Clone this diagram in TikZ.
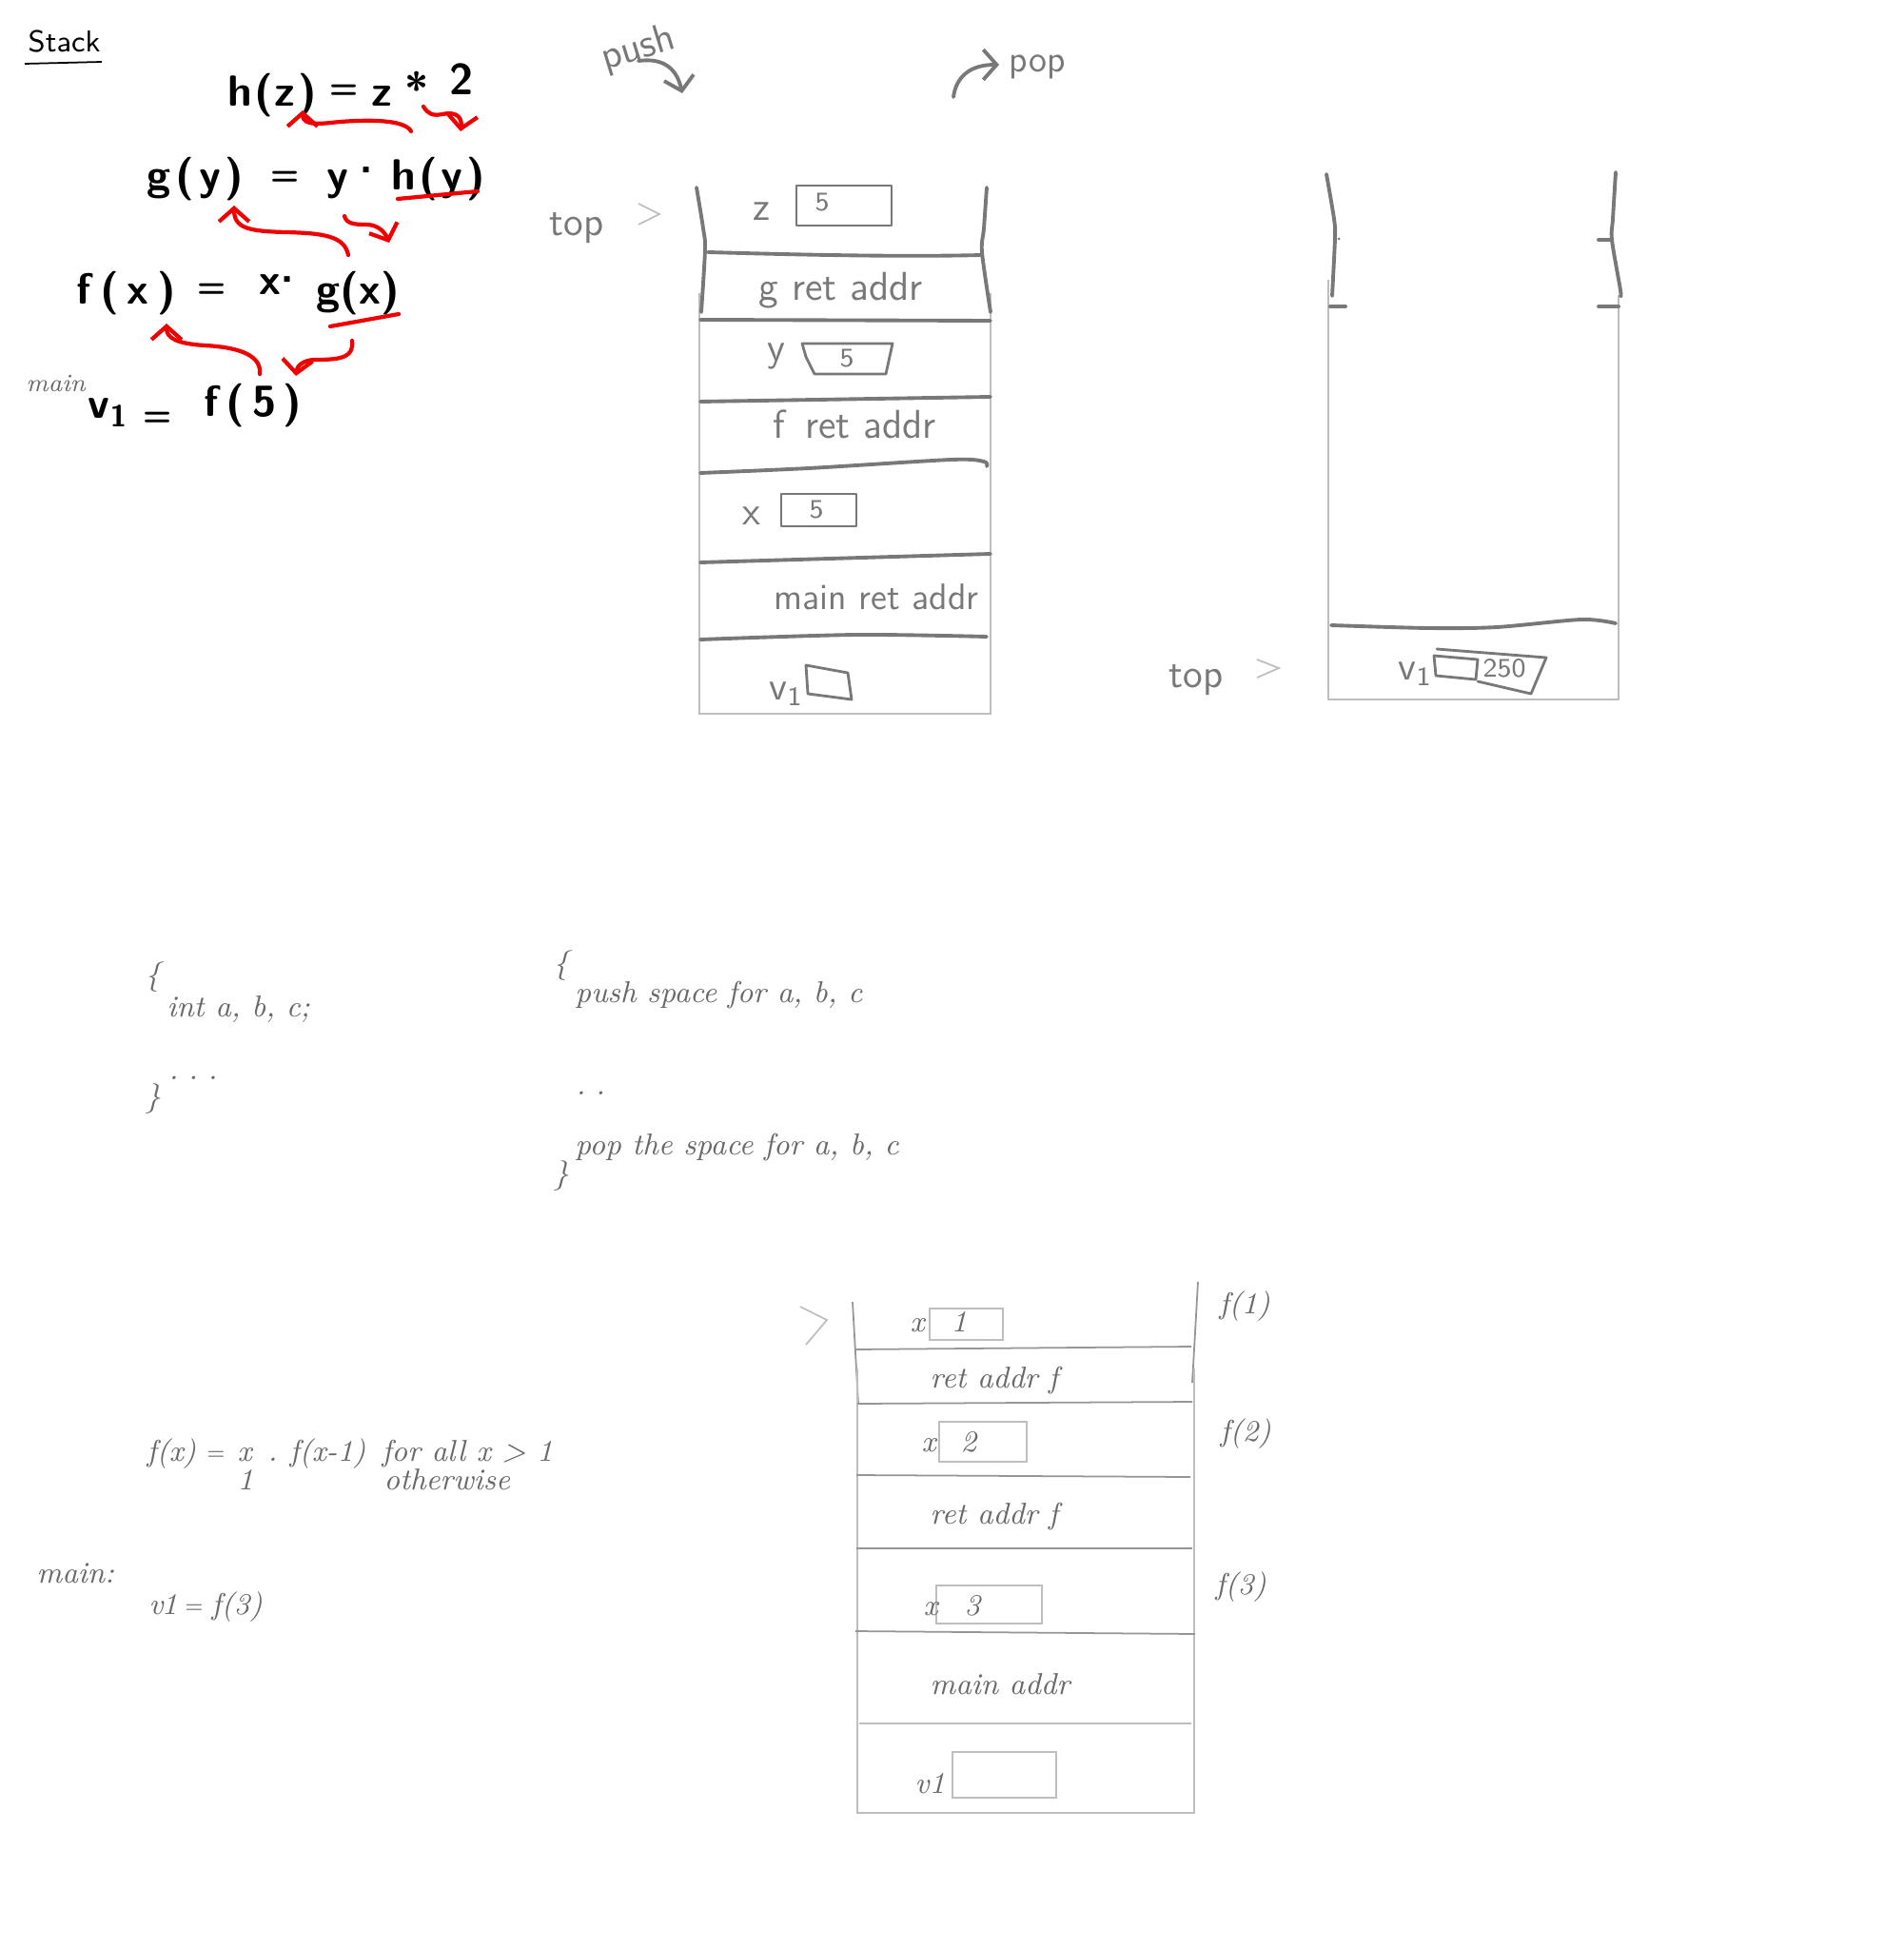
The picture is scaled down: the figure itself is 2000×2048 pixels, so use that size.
\documentclass[tikz,border=0pt]{standalone}
\usetikzlibrary{arrows.meta}
\definecolor{ink}{RGB}{120,120,120}
\definecolor{curink}{RGB}{105,105,105}
\definecolor{thingray}{RGB}{190,190,190}
\definecolor{midgray}{RGB}{150,150,150}
\definecolor{redink}{RGB}{240,0,0}
\begin{document}
\begin{tikzpicture}[x=0.1mm,y=-0.1mm,
  marker/.style={draw=ink, line width=1.1pt, line cap=round, line join=round},
  markerthin/.style={draw=ink, line width=0.8pt, line cap=round, line join=round},
  thinline/.style={draw=thingray, line width=0.5pt},
  midline/.style={draw=midgray, line width=0.5pt},
  redline/.style={draw=redink, line width=1.2pt, line cap=round, line join=round},
  redarrow/.style={redline, -{Straight Barb[length=4pt,width=9pt]}},
  markarrow/.style={marker, -{Straight Barb[length=4pt,width=9pt]}},
  cur/.style={text=curink, font=\fontsize{9}{11}\selectfont\itshape, inner sep=0pt, anchor=base west},
  cureq/.style={text=curink, font=\fontsize{6}{8}\selectfont, inner sep=0pt, anchor=base},
  mk/.style={text=ink, font=\fontsize{12}{14}\selectfont\sffamily, inner sep=0pt, anchor=base west},
  mksmall/.style={text=ink, font=\fontsize{8}{10}\selectfont\sffamily, inner sep=0pt, anchor=base west},
  eq/.style={text=black, font=\fontsize{13}{15}\selectfont\sffamily\bfseries, inner sep=0pt, anchor=base west},
  eqc/.style={eq, anchor=base}]
\useasboundingbox[fill=white] (0,0) rectangle (2000,2048);

% ---------- top-left equations ----------
\node[inner sep=0pt, anchor=base west, font=\fontsize{9}{11}\selectfont\sffamily] (stack) at (29,55) {Stack};
\draw[black, line width=0.5pt] (26,67) -- (107,65);

\node[eq] (hz1) at (239,112) {h\hspace{0.5pt}(\hspace{0.5pt}z\hspace{1pt})};
\node[eqc, font=\fontsize{10}{12}\selectfont\sffamily\bfseries] (hz2) at (362,104) {=};
\node[eq] (hz3) at (390,112) {z};
\node[eqc] (hz4) at (438,110) {*};
\node[eq] (hz5) at (472,100) {2};

\node[eq] (gy1) at (154,200) {g\hspace{1.4pt}(\hspace{1.4pt}y\hspace{1.4pt})};
\node[eqc, font=\fontsize{10}{12}\selectfont\sffamily\bfseries] (gy2) at (300,195) {=};
\node[eq] (gy3) at (343,200) {y};
\node[eqc] (gy4) at (385,195) {·};
\node[eq] (gy5) at (411,200) {h\hspace{1pt}(\hspace{1pt}y\hspace{1pt})};

\node[eq] (fx1) at (80,320) {f\hspace{2.6pt}(\hspace{2.6pt}x\hspace{2.6pt})};
\node[eqc, font=\fontsize{10}{12}\selectfont\sffamily\bfseries] (fx2) at (223,313) {=};
\node[eq] (fx3) at (272,310) {x};
\node[eqc] (fx4) at (302,310) {·};
\node[eq] (fx5) at (332,320) {g(x)};

\node[inner sep=0pt, anchor=base west, text=curink, font=\fontsize{7.5}{9}\selectfont\itshape] (mainA) at (27,412) {main};
\node[eq] (v1) at (92,440) {v\textsubscript{1}};
\node[eqc, font=\fontsize{10}{12}\selectfont\sffamily\bfseries] (v1eqs) at (166,447) {=};
\node[eq] (v1f) at (214,437) {f\hspace{2.2pt}(\hspace{2.2pt}5\hspace{2.2pt})};

\draw[redline] (418,209) -- (502,201);
\draw[redline] (347,343) -- (419,330);
\draw[redarrow] (432,138) .. controls (425,125) and (385,126) .. (357,128) .. controls (338,130) and (318,133) .. (318,116);
\draw[redarrow] (445,112) .. controls (450,120) and (455,122) .. (465,120) .. controls (478,117) and (486,122) .. (484,138);
\draw[redarrow] (366,268) .. controls (362,248) and (340,245) .. (300,244) .. controls (262,243) and (246,240) .. (246,216);
\draw[redarrow] (362,227) .. controls (364,235) and (372,236) .. (385,236) .. controls (398,236) and (405,245) .. (409,255);
\draw[redarrow] (273,393) .. controls (275,375) and (255,365) .. (215,363) .. controls (185,361) and (175,355) .. (175,340);
\draw[redarrow] (370,358) .. controls (372,375) and (360,378) .. (332,378) .. controls (318,378) and (312,385) .. (311,395);

% ---------- push / pop ----------
\node[mk, anchor=center, rotate=17] (push) at (671,52) {push};
\draw[markarrow] (671,64) .. controls (700,60) and (712,75) .. (717,98);
\node[mk, anchor=center, font=\fontsize{11}{13}\selectfont\sffamily] (pop) at (1090,70) {pop};
\draw[markarrow] (1002,102) .. controls (1005,80) and (1020,68) .. (1050,68);

% ---------- stack 1 ----------
\node[mk] (top1) at (577,248) {top};
\draw[thinline] (671,214) -- (693,225) -- (671,236);
\draw[thinline] (735,308) -- (735,750) -- (1041,750) -- (1041,308);
\draw[marker] plot[smooth] coordinates {(732,197) (739,240) (741,262) (737,328)};
\draw[marker] plot[smooth] coordinates {(1037,197) (1034,240) (1032,265) (1041,328)};
\draw[marker] (744,265) .. controls (850,268) and (950,270) .. (1032,268);
\draw[marker] (736,336) -- (1041,337);
\draw[marker] (736,422) -- (1041,417);
\draw[marker] plot[smooth] coordinates {(736,497) (850,492) (1000,483) (1034,485) (1037,490)};
\draw[marker] (736,591) -- (1041,582);
\draw[marker] plot[smooth] coordinates {(736,672) (900,667) (1037,669)};

\node[mk] (zlab) at (791,232) {z};
\draw[markerthin] (837,195) rectangle (937,237);
\node[mksmall] (z5) at (856,222) {5};
\node[mk] (gret) at (797,316) {g\hspace{4pt}ret addr};
\node[mk] (ylab) at (806,380) {y};
\draw[markerthin] (843,361) -- (938,361) -- (931,393) -- (856,393) -- (847,375) -- cycle;
\node[mksmall] (y5) at (882,386) {5};
\node[mk] (fret) at (812,461) {f\hspace{6pt}ret addr};
\node[mk] (xlab) at (780,551) {x};
\draw[markerthin] (821,519) rectangle (900,553);
\node[mksmall] (x5) at (850,544) {5};
\node[mk, font=\fontsize{11}{13}\selectfont\sffamily] (mainret) at (813,640) {main ret addr};
\node[mk] (v1a) at (808,735) {v\textsubscript{1}};
\draw[markerthin] (847,699) -- (891,707) -- (895,735) -- (849,729) -- cycle;

% ---------- stack 2 ----------
\node[mk] (top2) at (1228,722) {top};
\draw[thinline] (1321,693) -- (1344,702) -- (1321,712);
\draw[thinline] (1396,294) -- (1396,735) -- (1701,735) -- (1701,310);
\draw[marker] plot[smooth] coordinates {(1394,183) (1402,230) (1403,250) (1400,311)};
\draw[marker] plot[smooth] coordinates {(1698,181) (1695,230) (1694,252) (1703,305) (1703,311)};
\fill[ink] (1407,251) circle (1.5);
\draw[marker] (1680,252) -- (1694,252);
\draw[marker] (1398,322) -- (1414,322);
\draw[marker] (1680,322) -- (1701,322);
\draw[marker] plot[smooth] coordinates {(1399,657) (1501,660) (1573,659) (1662,651) (1698,655)};
\node[mk] (v1b) at (1469,714) {v\textsubscript{1}};
\draw[markerthin] (1507,689) -- (1553,693) -- (1551,714) -- (1509,710) -- cycle;
\draw[markerthin] (1510,682) -- (1625,691) -- (1609,729) -- (1553,716);
\node[mksmall] (v250) at (1558,711) {250};

% ---------- block scope text ----------
\node[cur] (b1) at (152,1034) {\{};
\node[cur] (intabc) at (175,1068) {int a, b, c;};
\node[cur] (dots1) at (177,1134) {.\,\,.\,\,.};
\node[cur] (b2) at (152,1162) {\}};
\node[cur] (b3) at (581,1022) {\{};
\node[cur] (pushsp) at (604,1053) {push space for a, b, c};
\node[cur] (dots2) at (605,1150) {.\,\,.};
\node[cur] (popsp) at (604,1213) {pop the space for a, b, c};
\node[cur] (b4) at (581,1243) {\}};

% ---------- factorial ----------
\node[cur] (fdef1) at (154,1535) {f(x)};
\node[cureq] (fdef2) at (227,1533) {=};
\node[cur] (fdef3) at (249,1535) {x};
\node[cur] (fdef4) at (281,1535) {.};
\node[cur] (fdef5) at (304,1535) {f(x-1)};
\node[cur] (fdef6) at (401,1535) {for all x > 1};
\node[cur] (fdef7) at (249,1565) {1};
\node[cur] (fdef8) at (403,1565) {otherwise};
\node[cur] (mainB) at (38,1663) {main:};
\node[cur] (v1eq) at (156,1696) {v\kern-0.5pt1};
\node[cureq] (v1eq2) at (204,1694) {=};
\node[cur] (v1eq3) at (222,1696) {f(3)};

% ---------- stack 3 ----------
\draw[thinline] (841,1373) -- (869,1387) -- (847,1413);
\draw[midline] (896,1368) -- (902,1475);
\draw[midline] (1259,1347) -- (1253,1453);
\draw[thinline] (901,1438) -- (901,1905) -- (1255,1905) -- (1255,1438);
\draw[midline] (899,1418) -- (1252,1415);
\draw[midline] (901,1475) -- (1253,1473);
\draw[midline] (900,1550) -- (1251,1552);
\draw[midline] (900,1627) -- (1253,1627);
\draw[midline] (899,1714) -- (1256,1717);
\draw[thinline] (903,1811) -- (1252,1811);
\draw[thinline] (977,1375) rectangle (1054,1408);
\draw[thinline] (987,1494) rectangle (1079,1536);
\draw[thinline] (984,1666) rectangle (1095,1706);
\draw[thinline] (1001,1841) rectangle (1110,1889);
\node[cur] (sx1) at (956,1399) {x};
\node[cur] (s1) at (999,1399) {1};
\node[cur] (sret1) at (977,1458) {ret addr f};
\node[cur] (sx2) at (968,1525) {x};
\node[cur] (s2) at (1009,1525) {2};
\node[cur] (sret2) at (977,1601) {ret addr f};
\node[cur] (sx3) at (970,1697) {x};
\node[cur] (s3) at (1013,1697) {3};
\node[cur] (smain) at (977,1780) {main addr};
\node[cur] (sv1) at (961,1884) {v1};
\node[cur] (f1) at (1281,1380) {f(1)};
\node[cur] (f2) at (1282,1514) {f(2)};
\node[cur] (f3) at (1277,1675) {f(3)};
\end{tikzpicture}
\end{document}
